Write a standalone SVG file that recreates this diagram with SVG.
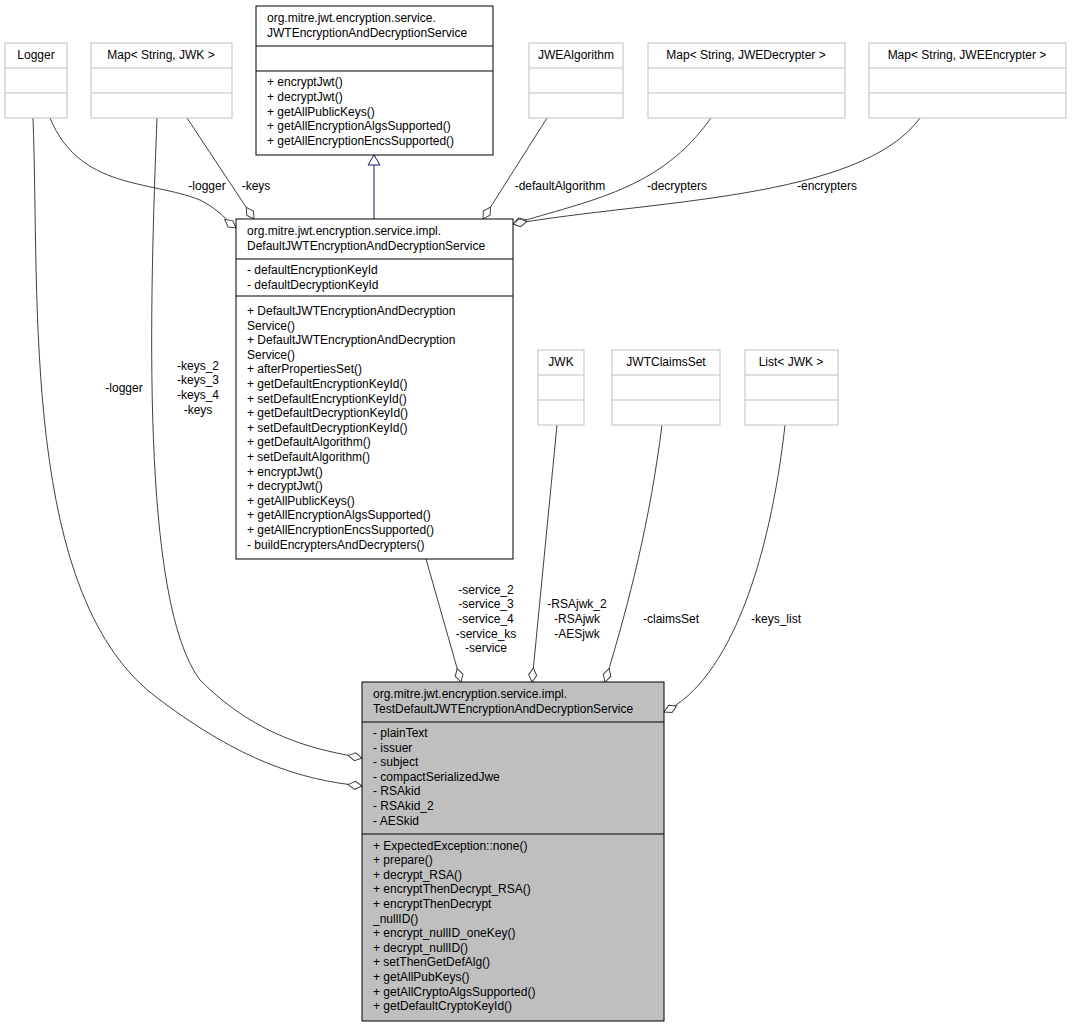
<svg xmlns="http://www.w3.org/2000/svg" width="1072" height="1028" viewBox="0 0 1072 1028">
<defs>
<style>
text{font-family:"Liberation Sans",Arial,sans-serif;font-size:12px;fill:#000}
.g{fill:#fff;stroke:#bfbfbf;stroke-width:1}
.b{fill:#fff;stroke:#000;stroke-width:1}
.t{fill:#bfbfbf;stroke:#000;stroke-width:1}
.e{fill:none;stroke:#404040;stroke-width:1}
.m{text-anchor:middle}
</style>
<marker id="dia" viewBox="0 0 16 10" refX="15" refY="5" markerWidth="16" markerHeight="10" orient="auto" markerUnits="userSpaceOnUse"><path d="M1,5 L8,1 L15,5 L8,9 Z" fill="#fff" stroke="#404040"/></marker>
<marker id="tri" viewBox="0 0 12 14" refX="11" refY="7" markerWidth="12" markerHeight="14" orient="auto" markerUnits="userSpaceOnUse"><path d="M1,1 L11,7 L1,13 Z" fill="#fff" stroke="#191970"/></marker>
</defs>
<rect width="1072" height="1028" fill="#fff"/>
<g id="edges">
<path class="e" d="M33,118 C40,300 20,600 160,700 C240,760 300,780 362,786" marker-end="url(#dia)"/>
<path class="e" d="M157,118 C150,300 140,600 200,680 C260,740 320,750 362,758" marker-end="url(#dia)"/>
<path class="e" d="M50,118 C80,190 150,180 200,200 C220,210 228,222 236,228" marker-end="url(#dia)"/>
<path class="e" d="M187,118 L254,219" marker-end="url(#dia)"/>
<path d="M374,219 L374,155" fill="none" stroke="#191970" marker-end="url(#tri)"/>
<path class="e" d="M547,118 L483,219" marker-end="url(#dia)"/>
<path class="e" d="M711,118 C660,190 590,200 513,224" marker-end="url(#dia)"/>
<path class="e" d="M920,118 C860,200 650,200 513,224" marker-end="url(#dia)"/>
<path class="e" d="M426,559 L461,682" marker-end="url(#dia)"/>
<path class="e" d="M557,425 L532,682" marker-end="url(#dia)"/>
<path class="e" d="M662,425 C650,520 630,600 605,682" marker-end="url(#dia)"/>
<path class="e" d="M785,425 C770,560 730,680 664,712" marker-end="url(#dia)"/>
<text x="207" y="190" class="m">-logger</text>
<text x="256" y="190" class="m">-keys</text>
<text x="560" y="190" class="m">-defaultAlgorithm</text>
<text x="677" y="190" class="m">-decrypters</text>
<text x="827" y="190" class="m">-encrypters</text>
<text x="124" y="392" class="m">-logger</text>
<text x="198" y="370" class="m">-keys_2</text>
<text x="198" y="384" class="m">-keys_3</text>
<text x="198" y="399" class="m">-keys_4</text>
<text x="198" y="414" class="m">-keys</text>
<text x="486" y="594" class="m">-service_2</text>
<text x="486" y="608" class="m">-service_3</text>
<text x="486" y="623" class="m">-service_4</text>
<text x="486" y="638" class="m">-service_ks</text>
<text x="486" y="652" class="m">-service</text>
<text x="577" y="608" class="m">-RSAjwk_2</text>
<text x="577" y="623" class="m">-RSAjwk</text>
<text x="577" y="638" class="m">-AESjwk</text>
<text x="671" y="623" class="m">-claimsSet</text>
<text x="776" y="623" class="m">-keys_list</text>
</g>
<g id="Logger"><rect class="g" x="5" y="43" width="62" height="75"/><path class="g" d="M5,68H67M5,93H67"/><text x="36" y="59" class="m">Logger</text></g>
<g id="MapJWK"><rect class="g" x="91" y="43" width="141" height="75"/><path class="g" d="M91,68H232M91,93H232"/><text x="161" y="59" class="m">Map&lt; String, JWK &gt;</text></g>
<g id="Iface"><rect class="b" x="256" y="6" width="237" height="149"/><path class="b" d="M256,46H493M256,71H493"/>
<text x="267" y="22">org.mitre.jwt.encryption.service.</text><text x="267" y="37">JWTEncryptionAndDecryptionService</text>
<text x="267" y="86">+ encryptJwt()</text><text x="267" y="101">+ decryptJwt()</text><text x="267" y="116">+ getAllPublicKeys()</text><text x="267" y="130">+ getAllEncryptionAlgsSupported()</text><text x="267" y="145">+ getAllEncryptionEncsSupported()</text></g>
<g id="JWEAlg"><rect class="g" x="529" y="43" width="94" height="75"/><path class="g" d="M529,68H623M529,93H623"/><text x="576" y="59" class="m">JWEAlgorithm</text></g>
<g id="MapDec"><rect class="g" x="648" y="43" width="197" height="75"/><path class="g" d="M648,68H845M648,93H845"/><text x="746" y="59" class="m">Map&lt; String, JWEDecrypter &gt;</text></g>
<g id="MapEnc"><rect class="g" x="869" y="43" width="197" height="75"/><path class="g" d="M869,68H1066M869,93H1066"/><text x="967" y="59" class="m">Map&lt; String, JWEEncrypter &gt;</text></g>
<g id="Default"><rect class="b" x="236" y="219" width="277" height="340"/><path class="b" d="M236,259H513M236,296H513"/>
<text x="247" y="235">org.mitre.jwt.encryption.service.impl.</text><text x="247" y="250">DefaultJWTEncryptionAndDecryptionService</text>
<text x="247" y="274">- defaultEncryptionKeyId</text><text x="247" y="289">- defaultDecryptionKeyId</text>
<text x="247" y="315">+ DefaultJWTEncryptionAndDecryption</text>
<text x="247" y="330">Service()</text>
<text x="247" y="344">+ DefaultJWTEncryptionAndDecryption</text>
<text x="247" y="359">Service()</text>
<text x="247" y="373">+ afterPropertiesSet()</text>
<text x="247" y="388">+ getDefaultEncryptionKeyId()</text>
<text x="247" y="403">+ setDefaultEncryptionKeyId()</text>
<text x="247" y="417">+ getDefaultDecryptionKeyId()</text>
<text x="247" y="432">+ setDefaultDecryptionKeyId()</text>
<text x="247" y="446">+ getDefaultAlgorithm()</text>
<text x="247" y="461">+ setDefaultAlgorithm()</text>
<text x="247" y="476">+ encryptJwt()</text>
<text x="247" y="490">+ decryptJwt()</text>
<text x="247" y="505">+ getAllPublicKeys()</text>
<text x="247" y="519">+ getAllEncryptionAlgsSupported()</text>
<text x="247" y="534">+ getAllEncryptionEncsSupported()</text>
<text x="247" y="549">- buildEncryptersAndDecrypters()</text></g>
<g id="JWK"><rect class="g" x="538" y="350" width="46" height="75"/><path class="g" d="M538,375H584M538,400H584"/><text x="561" y="366" class="m">JWK</text></g>
<g id="Claims"><rect class="g" x="612" y="350" width="108" height="75"/><path class="g" d="M612,375H720M612,400H720"/><text x="666" y="366" class="m">JWTClaimsSet</text></g>
<g id="ListJWK"><rect class="g" x="745" y="350" width="93" height="75"/><path class="g" d="M745,375H838M745,400H838"/><text x="791" y="366" class="m">List&lt; JWK &gt;</text></g>
<g id="Test"><rect class="t" x="362" y="682" width="302" height="339"/><path class="t" d="M362,722H664M362,834H664"/>
<text x="373" y="698">org.mitre.jwt.encryption.service.impl.</text><text x="373" y="713">TestDefaultJWTEncryptionAndDecryptionService</text>
<text x="373" y="737">- plainText</text><text x="373" y="752">- issuer</text><text x="373" y="766">- subject</text><text x="373" y="781">- compactSerializedJwe</text><text x="373" y="795">- RSAkid</text><text x="373" y="810">- RSAkid_2</text><text x="373" y="825">- AESkid</text>
<text x="373" y="850">+ ExpectedException::none()</text>
<text x="373" y="864">+ prepare()</text>
<text x="373" y="879">+ decrypt_RSA()</text>
<text x="373" y="893">+ encryptThenDecrypt_RSA()</text>
<text x="373" y="908">+ encryptThenDecrypt</text>
<text x="373" y="923">_nullID()</text>
<text x="373" y="937">+ encrypt_nullID_oneKey()</text>
<text x="373" y="952">+ decrypt_nullID()</text>
<text x="373" y="966">+ setThenGetDefAlg()</text>
<text x="373" y="981">+ getAllPubKeys()</text>
<text x="373" y="996">+ getAllCryptoAlgsSupported()</text>
<text x="373" y="1010">+ getDefaultCryptoKeyId()</text></g>
</svg>
